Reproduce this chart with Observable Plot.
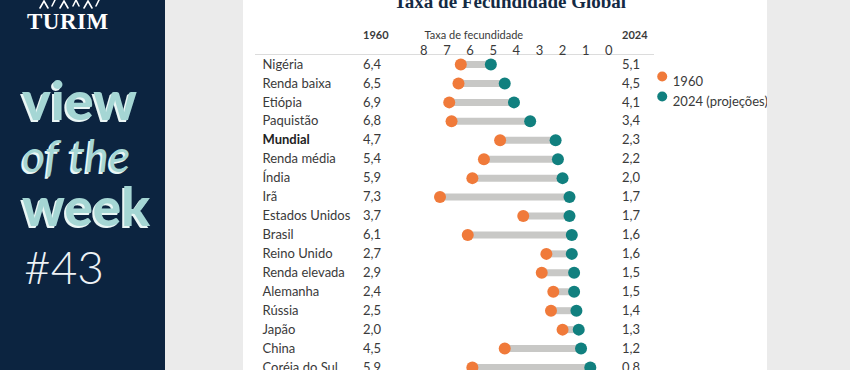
<!DOCTYPE html>
<html>
<head>
<meta charset="utf-8">
<script src="https://cdn.jsdelivr.net/npm/d3@7"></script>
<script src="https://cdn.jsdelivr.net/npm/@observablehq/plot@0.6"></script>
<style>
  html, body { margin:0; padding:0; }
  body { width:850px; height:370px; overflow:hidden; background:#ebebeb; position:relative; font-family:Lato, sans-serif; }
  #side { position:absolute; left:0; top:0; width:165px; height:370px; background:#0c2440; }
  #card { position:absolute; left:243px; top:0; width:524px; height:370px; background:#fff; overflow:hidden; }
  .big { position:absolute; left:22px; color:#a5d6d4; font-family:Lato, sans-serif; text-shadow:-2px 2px 0 #eaf6f5; line-height:0.8; white-space:nowrap; }
  #title { position:absolute; left:0; top:-8px; width:524px; padding-left:10px; box-sizing:border-box; text-align:center; font-family:"Liberation Serif", serif; font-weight:bold; font-size:19px; color:#142a44; line-height:1; }
  #chart { position:absolute; left:0; top:0; }
</style>
</head>
<body>
<div id="side">
  <svg width="165" height="12" style="position:absolute;left:0;top:0">
    <g stroke="#ffffff" stroke-width="1.6" fill="none" stroke-linecap="round">
      <polyline points="40,8 44,1 48,8"/>
      <polyline points="52,6 55,0"/>
      <polyline points="60,8 64,1 68,8"/>
      <polyline points="73,6 76,0 79,6"/>
      <polyline points="84,8 88,1 92,8"/>
      <polyline points="96,6 99,0"/>
    </g>
  </svg>
  <div style="position:absolute;left:27px;top:10px;color:#fff;font-family:'Liberation Serif',serif;font-weight:bold;font-size:23px;letter-spacing:0.5px;line-height:1">TURIM</div>
  <div class="big" style="top:78px;font-size:54px;font-weight:900;">view</div>
  <div class="big" style="top:137px;font-size:45px;font-style:italic;font-weight:400;">of the</div>
  <div class="big" style="top:185px;font-size:53px;font-weight:900;">week</div>
  <div style="position:absolute;left:24px;top:244px;color:#eef2f5;font-family:Lato,sans-serif;font-weight:300;font-size:46px;line-height:1">#43</div>
</div>
<div id="card">
  <div id="title">Taxa de Fecundidade Global</div>
  <div id="chart"></div>
</div>
<script>
const countries = ["Nigéria","Renda baixa","Etiópia","Paquistão","Mundial","Renda média","Índia","Irã","Estados Unidos","Brasil","Reino Unido","Renda elevada","Alemanha","Rússia","Japão","China","Coréia do Sul"];
const v1960 = [6.4,6.5,6.9,6.8,4.7,5.4,5.9,7.3,3.7,6.1,2.7,2.9,2.4,2.5,2.0,4.5,5.9];
const v2024 = [5.1,4.5,4.1,3.4,2.3,2.2,2.0,1.7,1.7,1.6,1.6,1.5,1.5,1.4,1.3,1.2,0.8];
const xTicks = [8,7,6,5,4,3,2,1,0];
const headers = ["1960","Taxa de fecundidade","2024"];
const legendLabels = ["1960","2024 (projeções)"];

const orange = "#f07a3a";
const teal = "#11807f";
const grey = "#c8c8c6";
const txt = "#3a3a3a";

const rows = countries.map((c,i)=>({country:c, rank:i, a:v1960[i], b:v2024[i]}));
const fmt = v => v.toFixed(1).replace(".", ",");

const chart = Plot.plot({
  width:524, height:370,
  marginTop:54, marginLeft:12, marginRight:114, marginBottom:0,
  style:{fontFamily:"Lato, sans-serif", fontSize:"13px", color:txt, background:"transparent"},
  x:{domain:[0,8], range:[365.3,180.3], axis:null},
  y:{type:"linear", domain:[0, countries.length-1], range:[64,367], axis:null},
  marks:[
    Plot.frame({anchor:"top", stroke:"#dcdcdc"}),
    Plot.text(xTicks, {x:d=>d, text:d=>String(d), frameAnchor:"top", dy:-9, fontSize:13, fill:txt}),
    Plot.text([headers[0]], {frameAnchor:"top-left", dx:107.5, dy:-23, textAnchor:"start", fontWeight:"bold", fontSize:11, fill:txt}),
    Plot.text([headers[1]], {frameAnchor:"top-left", dx:169, dy:-23, textAnchor:"start", fontSize:11, fill:txt}),
    Plot.text([headers[2]], {frameAnchor:"top-left", dx:366.5, dy:-23, textAnchor:"start", fontWeight:"bold", fontSize:11, fill:txt}),
    Plot.ruleY(rows, {y:"rank", x1:"a", x2:"b", stroke:grey, strokeWidth:7}),
    Plot.dot(rows, {x:"a", y:"rank", r:6, fill:orange}),
    Plot.dot(rows, {x:"b", y:"rank", r:6, fill:teal}),
    Plot.text(rows.filter(d=>d.country!=="Mundial"), {y:"rank", text:"country", frameAnchor:"left", dx:7, textAnchor:"start", fill:txt}),
    Plot.text(rows.filter(d=>d.country==="Mundial"), {y:"rank", text:"country", frameAnchor:"left", dx:7, textAnchor:"start", fill:"#222", fontWeight:"bold"}),
    Plot.text(rows, {y:"rank", text:d=>fmt(d.a), frameAnchor:"left", dx:107.5, textAnchor:"start", fill:txt}),
    Plot.text(rows, {y:"rank", text:d=>fmt(d.b), frameAnchor:"left", dx:366.5, textAnchor:"start", fill:txt}),
    Plot.dot([legendLabels[0]], {frameAnchor:"top-right", dx:8.7, dy:22, r:5, fill:orange}),
    Plot.dot([legendLabels[1]], {frameAnchor:"top-right", dx:8.7, dy:42, r:5, fill:teal}),
    Plot.text([legendLabels[0]], {frameAnchor:"top-right", dx:19.3, dy:22, textAnchor:"start", fill:txt}),
    Plot.text([legendLabels[1]], {frameAnchor:"top-right", dx:19.3, dy:42, textAnchor:"start", fill:txt})
  ]
});
chart.style.overflow = "visible";
document.getElementById("chart").appendChild(chart);
</script>
</body>
</html>
